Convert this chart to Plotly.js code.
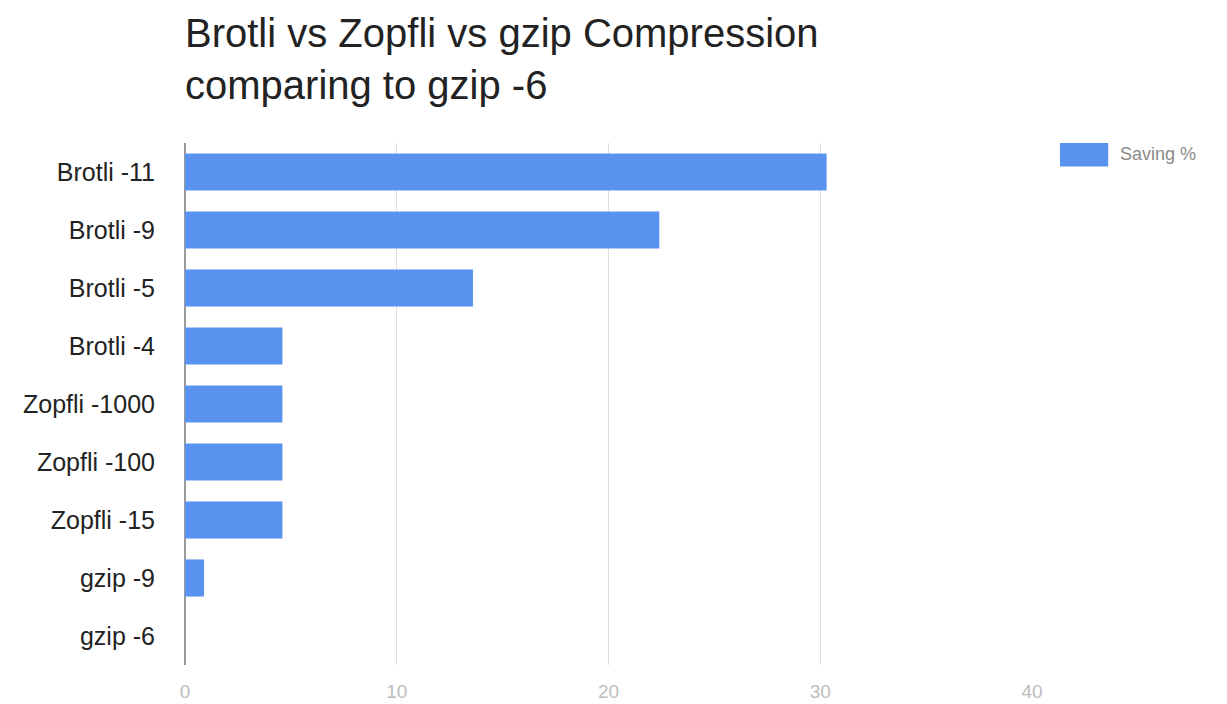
<!DOCTYPE html>
<html>
<head>
<meta charset="utf-8">
<script src="https://cdn.plot.ly/plotly-3.0.1.min.js"></script>
<style>html,body{margin:0;padding:0;background:#fff;}#chart{width:1227px;height:704px;}</style>
</head>
<body>
<div id="chart"></div>
<script>
const categories = ["Brotli -11", "Brotli -9", "Brotli -5", "Brotli -4", "Zopfli -1000", "Zopfli -100", "Zopfli -15", "gzip -9", "gzip -6"];
const savingPct = [30.3, 22.4, 13.6, 4.6, 4.6, 4.6, 4.6, 0.9, 0];
const seriesName = "Saving %";
const chartTitle = "Brotli vs Zopfli vs gzip Compression<br>comparing to gzip -6";
const xTicks = [0, 10, 20, 30, 40];

const barColor = "#5a93ef";
const trace = {
  type: "bar",
  orientation: "h",
  y: categories,
  x: savingPct,
  name: seriesName,
  marker: {color: barColor},
  hoverinfo: "x+y"
};

const layout = {
  width: 1227,
  height: 704,
  margin: {l: 185, r: 195, t: 143, b: 39},
  paper_bgcolor: "#fff",
  plot_bgcolor: "#fff",
  font: {family: "Liberation Sans, Arial, sans-serif"},
  showlegend: false,
  bargap: 0.36,
  title: {
    text: chartTitle,
    font: {size: 40, color: "#222"},
    xref: "paper", x: 0, xanchor: "left",
    yref: "container", y: 0.933, yanchor: "top"
  },
  xaxis: {
    range: [0, 40],
    tickvals: xTicks,
    showgrid: true,
    gridcolor: "#dedede",
    gridwidth: 1,
    zeroline: true,
    zerolinecolor: "#9a9a9a",
    zerolinewidth: 1.5,
    showline: false,
    ticks: "outside",
    ticklen: 9,
    tickcolor: "rgba(0,0,0,0)",
    tickfont: {size: 19, color: "#bdbdbd"},
    fixedrange: true
  },
  yaxis: {
    type: "category",
    autorange: "reversed",
    showgrid: false,
    showline: false,
    ticks: "outside",
    ticklen: 24,
    tickcolor: "rgba(0,0,0,0)",
    tickfont: {size: 25, color: "#222"},
    fixedrange: true
  },
  shapes: [
    {type: "rect", xref: "paper", yref: "paper", x0: 1.033, x1: 1.09, y0: 0.955, y1: 1.0,
     fillcolor: barColor, line: {width: 0}}
  ],
  annotations: [
    {xref: "paper", yref: "paper", x: 1.102, y: 0.978, xanchor: "left", yanchor: "middle",
     text: seriesName, showarrow: false, font: {size: 18, color: "#8a8a8a"}}
  ]
};

Plotly.newPlot("chart", [trace], layout, {displayModeBar: false, staticPlot: true});
</script>
</body>
</html>
